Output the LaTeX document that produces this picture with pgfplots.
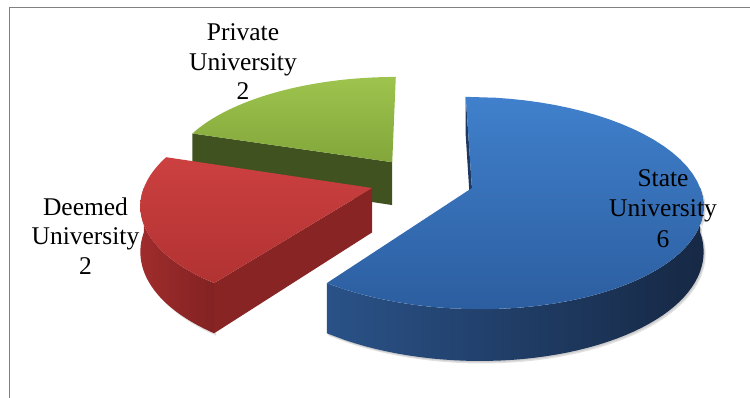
\documentclass[border=0pt]{standalone}
\usepackage{pgfplots}
\usepackage{pgfplotstable}
\pgfplotsset{compat=1.18}
\usepackage{fontspec}
\setmainfont{Liberation Serif}

\pgfplotstableread{
name value
State 6
Deemed 2
Private 2
}\datatable

\pgfplotstablegetelem{0}{value}\of\datatable \let\vS\pgfplotsretval
\pgfplotstablegetelem{1}{value}\of\datatable \let\vD\pgfplotsretval
\pgfplotstablegetelem{2}{value}\of\datatable \let\vP\pgfplotsretval
\pgfmathsetmacro\tot{\vS+\vD+\vP}
% slices run clockwise from 12 o'clock
\pgfmathsetmacro\aS{90-360*\vS/\tot}  % State:   \aS .. 90
\pgfmathsetmacro\aD{\aS-360*\vD/\tot} % Deemed:  \aD .. \aS
\pgfmathsetmacro\aP{\aD-360*\vP/\tot} % Private: \aP .. \aD
\def\ex{0.23}
\pgfmathsetmacro\cuS{\ex*cos((\aS+90)/2)}
\pgfmathsetmacro\cvS{\ex*sin((\aS+90)/2)}
\pgfmathsetmacro\cuD{\ex*cos((\aD+\aS)/2)}
\pgfmathsetmacro\cvD{\ex*sin((\aD+\aS)/2)}
\pgfmathsetmacro\cuP{\ex*cos((\aP+\aD)/2)}
\pgfmathsetmacro\cvP{\ex*sin((\aP+\aD)/2)}

% top face: #1 cu, #2 cv, #3 a, #4 b, #5 style
\newcommand\slicetop[5]{%
  \addplot[#5, draw=none, samples at={-1,0,0.02,...,0.98,1,2}, variable=\t]
   ({PX(#1+rr(\t)*cos(ang(\t,#3,#4)), #2+rr(\t)*sin(ang(\t,#3,#4)))},
    {PY(#2+rr(\t)*sin(ang(\t,#3,#4)),0)});
}
% curved outer wall between angles #3 and #4
\newcommand\slicewall[5]{%
  \addplot[#5, draw=none, samples at={0,0.02,...,0.98,1,2,2.02,...,2.98,3}, variable=\t]
   ({PX(#1+cos(angb(\t,#3,#4)), #2+sin(angb(\t,#3,#4)))},
    {PY(#2+sin(angb(\t,#3,#4)),zz(\t))});
}
% radial wall at angle #3
\newcommand\sliceside[4]{%
  \addplot[#4, draw=none, samples at={0,1,2,3}, variable=\t]
   ({PX(#1+rq(\t)*cos(#3), #2+rq(\t)*sin(#3))},
    {PY(#2+rq(\t)*sin(#3),zz(\t))});
}

\definecolor{bluetopA}{RGB}{64,128,204}
\definecolor{bluetopB}{RGB}{44,94,160}
\definecolor{bluesideA}{RGB}{42,82,136}
\definecolor{bluesideB}{RGB}{22,40,68}
\definecolor{bluedark}{RGB}{30,56,95}
\definecolor{redtopA}{RGB}{204,64,64}
\definecolor{redtopB}{RGB}{178,50,50}
\definecolor{redsideA}{RGB}{160,44,44}
\definecolor{redsideB}{RGB}{130,34,34}
\definecolor{redface}{RGB}{136,36,36}
\definecolor{greentopA}{RGB}{158,196,78}
\definecolor{greentopB}{RGB}{130,166,58}
\definecolor{greenface}{RGB}{63,82,32}
\definecolor{framegray}{RGB}{128,128,128}

\begin{document}
\begin{tikzpicture}[
  declare function={
    sc(\v)=1/(1+0.14*\v);
    PX(\u,\v)=422+226*\u*sc(\v);
    PY(\v,\z)=217.3+(102*\v+44*\z)*sc(\v);
    rr(\s)=ifthenelse(\s<-0.5,0,ifthenelse(\s>1.5,0,1));
    ang(\s,\p,\q)=\p+(\q-\p)*min(max(\s,0),1);
    angb(\s,\p,\q)=ifthenelse(\s<1.5,\p+(\q-\p)*\s,\q-(\q-\p)*(\s-2));
    zz(\s)=ifthenelse(\s<1.5,0,-1);
    rq(\s)=ifthenelse(\s>0.5,ifthenelse(\s<2.5,1,0),0);
  }]
\begin{axis}[
  at={(0,0)}, anchor=south west,
  scale only axis, width=750pt, height=398pt,
  xmin=0, xmax=750, ymin=0, ymax=398,
  hide axis, clip=false,
]
% soft shadows
\slicewall{\cuD}{\cvD}{-180}{\aS}{fill=black!12, xshift=2pt, yshift=-2.5pt}
\slicewall{\cuS}{\cvS}{\aS}{0}{fill=black!12, xshift=2pt, yshift=-2.5pt}
\slicewall{\cuS}{\cvS}{\aS}{0}{fill=black!20, xshift=1pt, yshift=-1.2pt}
% Private (green)
\sliceside{\cuP}{\cvP}{\aD}{fill=greenface}
\slicetop{\cuP}{\cvP}{\aP}{\aD}{top color=greentopA, bottom color=greentopB}
% Deemed (red)
\slicewall{\cuD}{\cvD}{-180}{\aS}{left color=redsideA, right color=redsideB}
\sliceside{\cuD}{\cvD}{\aS}{fill=redface}
\slicetop{\cuD}{\cvD}{\aD}{\aS}{top color=redtopA, bottom color=redtopB}
% State (blue)
\sliceside{\cuS}{\cvS}{90}{fill=bluedark}
\slicewall{\cuS}{\cvS}{\aS}{0}{left color=bluesideA, right color=bluesideB}
\slicetop{\cuS}{\cvS}{\aS}{90}{top color=bluetopA, bottom color=bluetopB}

% frame
\draw[framegray, line width=1.5pt] (axis cs:9.3,0) -- (axis cs:9.3,390.5) -- (axis cs:750,390.5);

% labels
\begin{scope}[every node/.style={font=\fontsize{25.5}{30}\selectfont, anchor=base, inner sep=0pt}]
\node at (axis cs:243,357.3) {Private};
\node at (axis cs:243,327.3) {University};
\node at (axis cs:243,298) {2};
\node at (axis cs:85.5,182) {Deemed};
\node at (axis cs:85.5,153) {University};
\node at (axis cs:85.5,123) {2};
\node at (axis cs:663,211.3) {State};
\node at (axis cs:663,181.3) {University};
\node at (axis cs:663,150) {6};
\end{scope}
\end{axis}
\pgfresetboundingbox
\path[use as bounding box] (0,0) rectangle (750pt,398pt);
\end{tikzpicture}
\end{document}
